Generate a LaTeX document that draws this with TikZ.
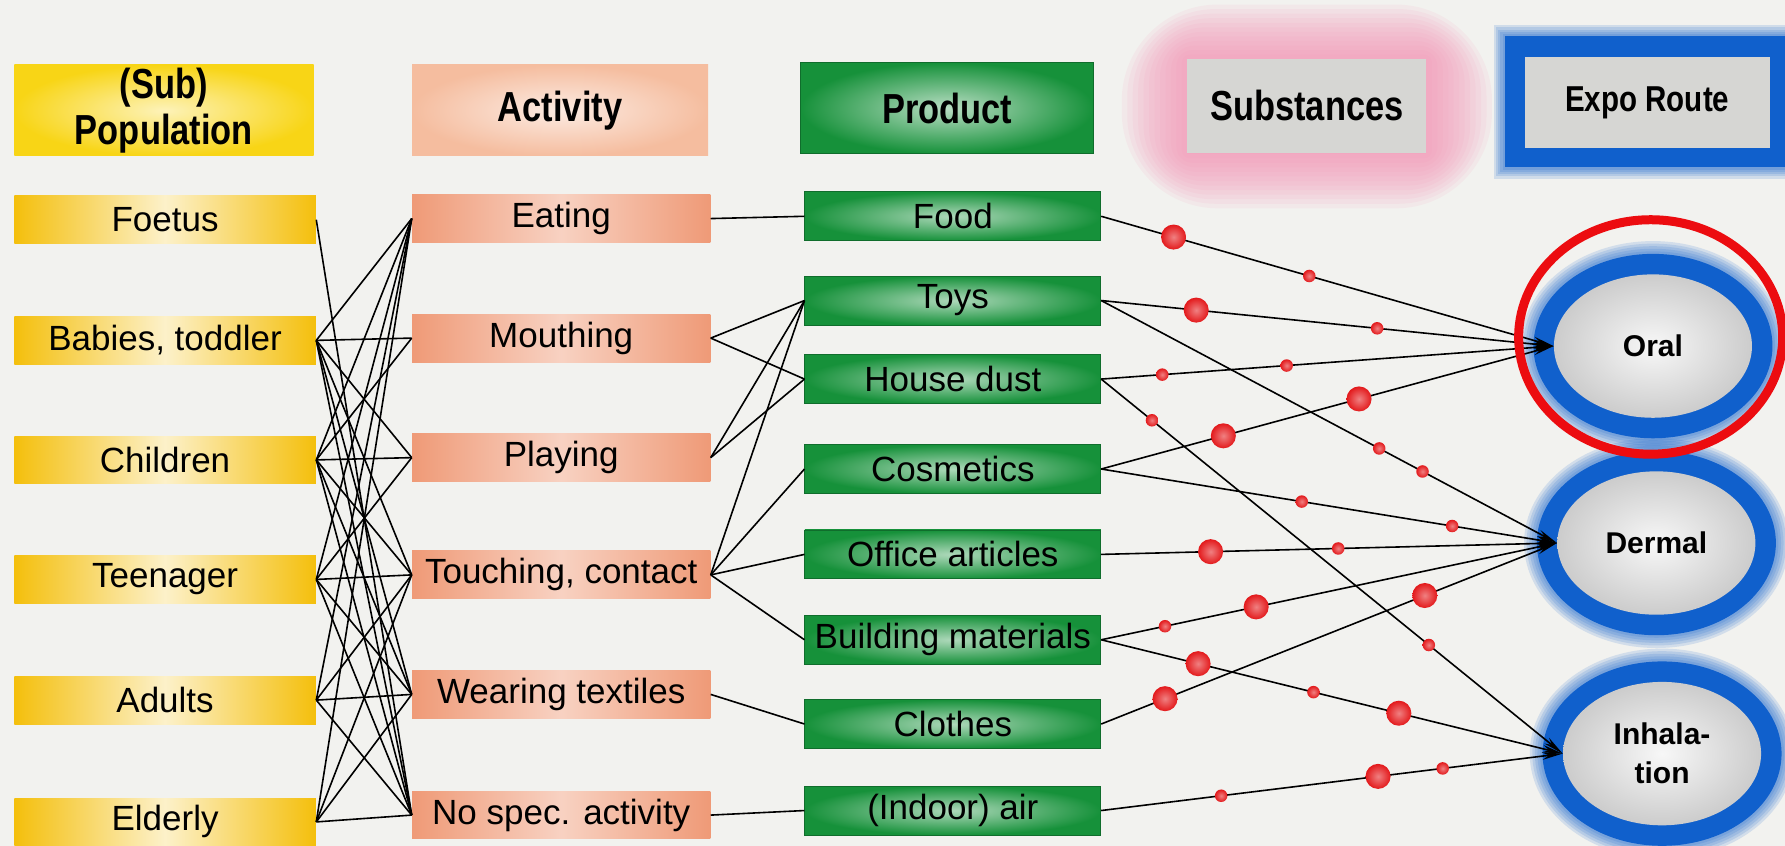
\documentclass[tikz,border=0pt]{standalone}
\usepackage{fontspec}
\setmainfont{Liberation Sans}
\newfontfamily\headfont{Liberation Sans}[FakeStretch=0.82]
\usepackage{tikz}
\usetikzlibrary{positioning,shapes,arrows.meta,calc}
\definecolor{paper}{HTML}{F2F2EF}
\definecolor{popyellow}{HTML}{F4BF0C}
\definecolor{headyellow}{HTML}{F8D516}
\definecolor{actsalmon}{HTML}{EF9A77}
\definecolor{headsalmon}{HTML}{F5BD9F}
\definecolor{prodgreen}{HTML}{16913A}
\definecolor{headgrey}{HTML}{D6D6D3}
\definecolor{glowpink}{HTML}{F28DB2}
\definecolor{routeblue}{HTML}{1060CC}
\definecolor{dotred}{HTML}{E3191B}
\definecolor{markred}{HTML}{EC0C10}

\begin{document}
\begin{tikzpicture}[
  x=0.02cm, y=-0.02cm,
  line/.style={
    line width=0.8pt,
    draw=black,
  },
  expo/.style={
    line,
    -{Stealth[length=0.36cm, width=0.13cm]},
  },
  box/.style={
    minimum height=0.84cm,
    inner sep=0pt,
    font=\fontsize{17.5}{20}\selectfont,
  },
  pop/.style={box, minimum width=5.3cm, left color=popyellow, right color=popyellow, middle color=popyellow!22!white},
  act/.style={box, minimum width=5.24cm, left color=actsalmon, right color=actsalmon, middle color=actsalmon!45!white},
  prod/.style={box, minimum width=5.2cm, minimum height=0.86cm, inner color=prodgreen!35!white, outer color=prodgreen, draw=prodgreen!75!black},
  head/.style={minimum height=1.6cm, inner sep=0pt, align=center, font=\headfont\bfseries\fontsize{21}{23}\selectfont},
  route/.style={ellipse, minimum width=3.48cm, minimum height=2.52cm, inner sep=0pt, inner color=gray!6, outer color=gray!40, align=center, font=\bfseries\fontsize{15}{19.5}\selectfont},
  bigdot/.style={circle, minimum size=0.44cm, inner sep=0pt, inner color=dotred!55!white, outer color=dotred},
  smalldot/.style={circle, minimum size=0.22cm, inner sep=0pt, inner color=dotred!55!white, outer color=dotred},
  ]
  \useasboundingbox (0,0) rectangle (1568,743);
  \fill[paper] (0,0) rectangle (1568,743);
  \foreach \d in {48,44,...,0}
    \fill[glowpink, opacity=.09, rounded corners=\d] (1043-1.2*\d,52-\d) rectangle (1253+1.2*\d,135+\d);
  \foreach \d in {10,8,...,2}
    \fill[routeblue, opacity=.15] (1322-\d,32-\d) rectangle (1568+\d,147+\d);
  \fill[routeblue] (1322,32) rectangle (1568,147);
  \node[head, minimum width=5.26cm, inner color=headyellow!30!white, outer color=headyellow] (PH) at (144,97) {(Sub)\\Population};
  \node[head, minimum width=5.2cm, inner color=headsalmon!30!white, outer color=headsalmon] (AH) at (492,97) {Activity};
  \node[head, minimum width=5.14cm, inner color=prodgreen!30!white, outer color=prodgreen, draw=prodgreen!75!black] (RH) at (832,95) {Product};
  \node[head, minimum width=4.2cm, minimum height=1.66cm, fill=headgrey] (SH) at (1148,93) {Substances};
  \node[head, minimum width=4.3cm, fill=headgrey, font=\headfont\bfseries\fontsize{18}{18}\selectfont] (EH) at (1447,90) {Expo Route};
  \foreach \n/\y/\t in {1/193/Foetus, 2/299/{Babies, toddler}, 3/404/Children, 4/509/Teenager, 5/615/Adults, 6/722/Elderly}
    \node[pop] (P\n) at (145,\y) {\t};
  \foreach \n/\y/\t in {1/192/Eating, 2/297/Mouthing, 3/402/Playing, 4/505/{Touching, contact}, 5/610/Wearing textiles, 6/716/No spec. activity}
    \node[act] (A\n) at (493,\y) {\t};
  \foreach \n/\y/\t in {1/190/Food, 2/264/Toys, 3/333/House dust, 4/412/Cosmetics, 5/487/Office articles, 6/562/Building materials, 7/636/Clothes, 8/712/(Indoor) air}
    \node[prod] (R\n) at (837,\y) {\t};
  \foreach \p/\a in {1/6, 2/1, 2/2, 2/3, 2/4, 2/5, 2/6, 3/1, 3/2, 3/3, 3/4, 3/5, 3/6, 4/1, 4/3, 4/4, 4/5, 4/6, 5/1, 5/4, 5/5, 5/6, 6/1, 6/4, 6/5, 6/6}
    \draw[line] (P\p.east) -- (A\a.west);
  \foreach \a/\r in {1/1, 2/2, 2/3, 3/2, 3/3, 4/2, 4/4, 4/5, 4/6, 5/7, 6/8}
    \draw[line] (A\a.east) -- (R\r.west);
  \foreach \c/\x/\y in {Oc/1452/304, Dc/1455/477, Ic/1460/662} {
    \coordinate (\c) at (\x,\y);
    \foreach \k in {5,4,...,1}
      \fill[routeblue, opacity=.14] (\c) ellipse [x radius=2.1cm+\k*0.045cm, y radius=1.62cm+\k*0.045cm];
    \fill[routeblue] (\c) ellipse [x radius=2.1cm, y radius=1.62cm];
  }
  \node[route] (O) at (Oc) {Oral};
  \node[route] (D) at (Dc) {Dermal};
  \node[route] (I) at (Ic) {Inhala-\\tion};
  \draw[expo] (R1.east) -- node[bigdot, pos=.16] {} node[smalldot, pos=.46] {} (O.west);
  \draw[expo] (R2.east) -- node[bigdot, pos=.21] {} node[smalldot, pos=.61] {} (O.west);
  \draw[expo] (R3.east) -- node[smalldot, pos=.135] {} node[smalldot, pos=.41] {} (O.west);
  \draw[expo] (R4.east) -- node[bigdot, pos=.27] {} node[bigdot, pos=.57] {} (O.west);
  \draw[expo] (R2.east) -- node[smalldot, pos=.61] {} node[smalldot, pos=.705] {} (D.west);
  \draw[expo] (R4.east) -- node[smalldot, pos=.44] {} node[smalldot, pos=.77] {} (D.west);
  \draw[expo] (R5.east) -- node[bigdot, pos=.24] {} node[smalldot, pos=.52] {} (D.west);
  \draw[expo] (R6.east) -- node[smalldot, pos=.14] {} node[bigdot, pos=.34] {} (D.west);
  \draw[expo] (R7.east) -- node[bigdot, pos=.14] {} node[bigdot, pos=.71] {} (D.west);
  \draw[expo] (R3.east) -- node[smalldot, pos=.11] {} node[smalldot, pos=.71] {} (I.west);
  \draw[expo] (R6.east) -- node[bigdot, pos=.21] {} node[smalldot, pos=.46] {} node[bigdot, pos=.645] {} (I.west);
  \draw[expo] (R8.east) -- node[smalldot, pos=.26] {} node[bigdot, pos=.6] {} node[smalldot, pos=.74] {} (I.west);
  \draw[markred, line width=4.5pt] (1450,296) ellipse [x radius=2.32cm, y radius=2.06cm];
\end{tikzpicture}
\end{document}
